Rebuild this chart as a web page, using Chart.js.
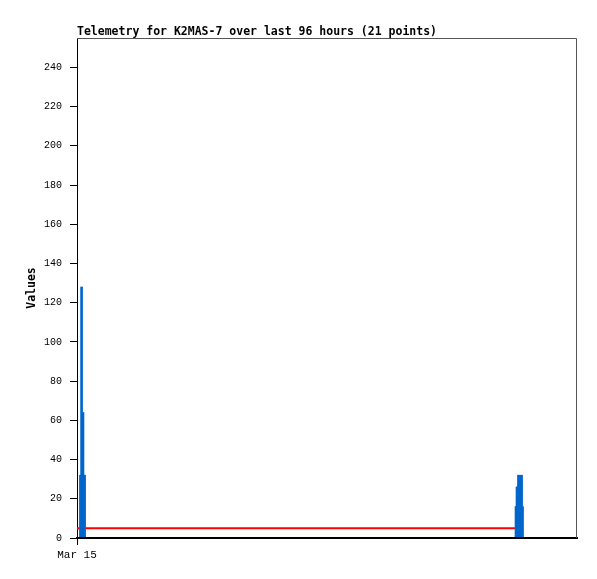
<!DOCTYPE html>
<html>
<head>
<meta charset="utf-8">
<script src="https://cdn.jsdelivr.net/npm/chart.js@4/dist/chart.umd.min.js"></script>
<style>
html,body{margin:0;padding:0;background:#fff;}
#wrap{width:597px;height:579px;}
</style>
</head>
<body>
<div id="wrap"><canvas id="c" width="597" height="579"></canvas></div>
<script>
// Hours since start of the 96-hour window, and telemetry values (21 points)
const times = [0.67,0.77,0.88,0.96,1.06,1.15,1.23,1.31,1.38,1.44,
               84.29,84.39,84.48,84.58,84.77,84.87,84.97,85.06,85.25,85.35,85.54];
const values = [32,32,128,32,32,64,32,32,32,32,
                16,16,26,26,32,32,20,16,32,32,16];
const thresholdTimes = [0, 85.3];
const thresholdValues = [5, 5];
const zeroTimes = [0, 96];
const zeroValues = [0, 0];
const xTickValues = [0];
const xTickLabels = ['Mar 15'];
const yTicks = [0,20,40,60,80,100,120,140,160,180,200,220,240];
const titleText = 'Telemetry for K2MAS-7 over last 96 hours (21 points)';
const yTitle = 'Values';

const toPts = (xs, ys) => xs.map((x, i) => ({x: x, y: ys[i]}));

const frame = {
  id: 'frame',
  afterDraw(chart) {
    const a = chart.chartArea, ctx = chart.ctx;
    ctx.save();
    ctx.strokeStyle = '#555';
    ctx.lineWidth = 1;
    ctx.beginPath();
    ctx.moveTo(a.left, a.top + 0.5);
    ctx.lineTo(a.right - 0.5, a.top + 0.5);
    ctx.lineTo(a.right - 0.5, a.bottom);
    ctx.stroke();
    ctx.restore();
  }
};

new Chart(document.getElementById('c'), {
  type: 'bar',
  data: {
    datasets: [
      {type: 'line', order: 0, data: toPts(zeroTimes, zeroValues), borderColor: '#000', borderWidth: 2, pointRadius: 0, tension: 0},
      {type: 'bar', order: 1, data: toPts(times, values), backgroundColor: '#0066cc', borderWidth: 0, barThickness: 2},
      {type: 'line', order: 2, data: toPts(thresholdTimes, thresholdValues), borderColor: '#ff0000', borderWidth: 2, pointRadius: 0, tension: 0}
    ]
  },
  options: {
    responsive: false,
    animation: false,
    devicePixelRatio: 1,
    layout: {padding: {left: 0, right: 20, top: 0, bottom: 0}},
    plugins: {
      legend: {display: false},
      tooltip: {enabled: false},
      title: {
        display: true,
        text: titleText,
        align: 'start',
        fullSize: false,
        color: '#000',
        font: {family: "'DejaVu Sans Mono', monospace", size: 11.5, weight: 'bold', lineHeight: 1},
        padding: {top: 26, bottom: 0.5}
      }
    },
    scales: {
      x: {
        type: 'linear',
        min: 0,
        max: 96,
        offset: false,
        grid: {display: true, offset: false, drawOnChartArea: false, drawTicks: true, tickLength: 7, tickColor: '#000'},
        border: {display: true, color: '#000', width: 2},
        afterBuildTicks: s => { s.ticks = xTickValues.map(v => ({value: v})); },
        afterFit: s => { s.height = 41; },
        ticks: {
          color: '#000',
          maxRotation: 0,
          autoSkip: false,
          padding: 3,
          font: {family: "'Liberation Mono', monospace", size: 11},
          callback: (v) => { const i = xTickValues.indexOf(v); return i >= 0 ? xTickLabels[i] : ''; }
        }
      },
      y: {
        type: 'linear',
        min: 0,
        max: 255,
        grid: {display: true, drawOnChartArea: false, drawTicks: true, tickLength: 7, tickColor: '#000'},
        border: {display: true, color: '#000', width: 1},
        afterBuildTicks: s => { s.ticks = yTicks.map(v => ({value: v})); },
        afterFit: s => { s.width = 77; },
        ticks: {
          color: '#000',
          padding: 8,
          font: {family: "'Liberation Mono', monospace", size: 10}
        },
        title: {
          display: true,
          text: yTitle,
          color: '#000',
          font: {family: "'DejaVu Sans Mono', monospace", size: 11.5, weight: 'bold'},
          padding: {top: 25, bottom: 0}
        }
      }
    }
  },
  plugins: [frame]
});
</script>
</body>
</html>
